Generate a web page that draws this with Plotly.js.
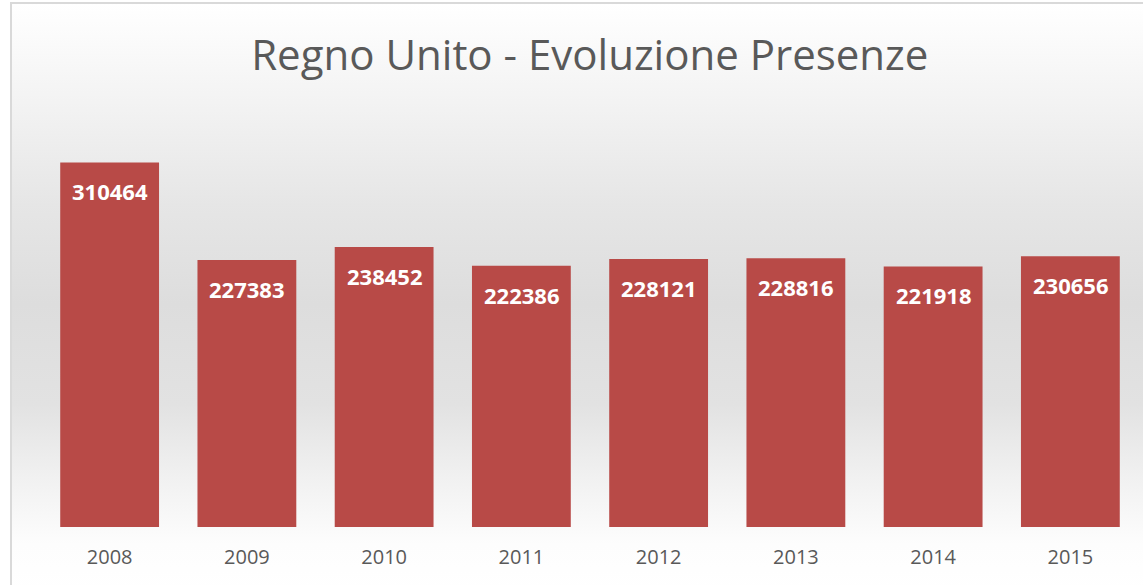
<!DOCTYPE html>
<html>
<head>
<meta charset="utf-8">
<script src="https://cdn.plot.ly/plotly-3.0.1.min.js"></script>
<style>
  html, body { margin: 0; padding: 0; width: 1143px; height: 585px; overflow: hidden; background: #ffffff; }
  #bg {
    position: absolute; left: 10px; top: 2px; width: 1140px; height: 590px;
    border-left: 2px solid #d9d9d9; border-top: 2px solid #d9d9d9;
    background: linear-gradient(to bottom, #ffffff 0px, #f4f4f4 90px, #e6e6e6 200px, #dddddd 300px, #e2e2e2 400px, #f2f2f2 480px, #fdfdfd 540px, #ffffff 590px);
  }
  #chart { position: absolute; left: 0; top: 0; width: 1143px; height: 585px; }
</style>
</head>
<body>
<div id="bg"></div>
<div id="chart"></div>
<script>
const years = ['2008', '2009', '2010', '2011', '2012', '2013', '2014', '2015'];
const presenze = [310464, 227383, 238452, 222386, 228121, 228816, 221918, 230656];

const trace = {
  type: 'bar',
  x: years,
  y: presenze,
  marker: { color: '#b84a47', line: { width: 0 } },
  hoverinfo: 'x+y'
};

// annotation x uses the category index on the category axis
const annotations = years.map((yr, i) => ({
  x: i, y: presenze[i], xref: 'x', yref: 'y',
  text: '<b>' + presenze[i] + '</b>',
  showarrow: false, yanchor: 'middle', yshift: -29,
  font: { family: 'Open Sans, sans-serif', size: 22, color: '#ffffff' }
}));

const layout = {
  width: 1143, height: 585,
  margin: { l: 41, r: 4, t: 116, b: 58 },
  paper_bgcolor: 'rgba(0,0,0,0)',
  plot_bgcolor: 'rgba(0,0,0,0)',
  bargap: 0.28,
  showlegend: false,
  title: {
    text: 'Regno Unito - Evoluzione Presenze',
    font: { family: 'Open Sans, sans-serif', size: 42, color: '#595959' },
    x: 0.516, xanchor: 'center', y: 0.905, yanchor: 'middle'
  },
  xaxis: {
    type: 'category',
    range: [-0.5, years.length - 0.5],
    showgrid: false, zeroline: false, showline: false, ticks: '',
    ticklabelstandoff: 16,
    tickfont: { family: 'Open Sans, sans-serif', size: 20, color: '#595959' }
  },
  yaxis: {
    range: [0, 350000], visible: false, showgrid: false, zeroline: false
  },
  annotations: annotations
};

Plotly.newPlot('chart', [trace], layout, { displayModeBar: false });
</script>
</body>
</html>
